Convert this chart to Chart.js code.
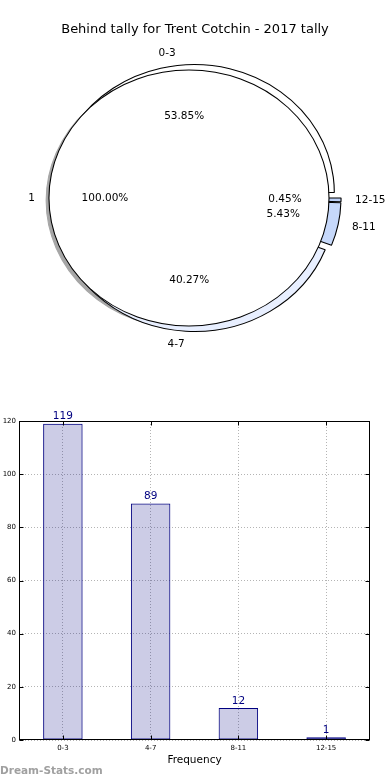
<!DOCTYPE html>
<html>
<head>
<meta charset="utf-8">
<script src="https://cdn.jsdelivr.net/npm/chart.js@4/dist/chart.umd.min.js"></script>
<style>
  html, body { margin: 0; padding: 0; background: #fff; }
  body { width: 390px; height: 780px; position: relative; overflow: hidden; font-family: 'DejaVu Sans', sans-serif; }
  .pieWrap { position: absolute; left: 0; top: 0; width: 390px; height: 400px; }
  #ringWrap { z-index: 1; }
  #innerWrap { z-index: 2; }
  #barWrap { position: absolute; left: 0; top: 400px; width: 390px; height: 380px; }
  #credit { position: absolute; left: 0; top: 764px; font-size: 10.5px; font-weight: bold; color: #a0a0a0; z-index: 3; }
</style>
</head>
<body>
<div class="pieWrap" id="ringWrap"><canvas id="ringChart"></canvas></div>
<div class="pieWrap" id="innerWrap"><canvas id="innerChart"></canvas></div>
<div id="barWrap"><canvas id="barChart"></canvas></div>
<div id="credit">Dream-Stats.com</div>
<script>
const chartTitle = 'Behind tally for Trent Cotchin - 2017 tally';
const categories = ['0-3', '4-7', '8-11', '12-15'];
const counts = [119, 89, 12, 1];
const innerLabels = ['1'];
const innerCounts = [221];
const yTicks = [0, 20, 40, 60, 80, 100, 120];
const xTitle = 'Frequency';

// styling
const FONT = "'DejaVu Sans', sans-serif";
const ringColors = ['#ffffff', '#e8efff', '#c6d8fa', '#bcd0f7'];
const explodePx = 5.5;
const stretchX = 1.094;
const pieRadius = 128;
const shadowColor = '#a6a6a6';

Chart.defaults.font.family = FONT;
Chart.defaults.color = '#000';

// matplotlib goes counter-clockwise from 3 o'clock, chart.js clockwise -> reverse
const ringLabels = [...categories].reverse();
const ringValues = [...counts].reverse();
const ringFill = [...ringColors].reverse();

let innerChart = null;
let ringChart = null;

function pct(value, values) {
  const total = values.reduce((a, b) => a + b, 0);
  return (value / total * 100).toFixed(2) + '%';
}

function center(chart) {
  const { chartArea } = chart;
  return {
    cx: (chartArea.left + chartArea.right) / 2,
    cy: (chartArea.top + chartArea.bottom) / 2,
  };
}

function stretch(chart, dx = 0, dy = 0) {
  const { ctx } = chart;
  const { cx, cy } = center(chart);
  ctx.translate(cx + dx, cy + dy);
  ctx.scale(stretchX, 1);
  ctx.translate(-cx, -cy);
}

function arcProps(arc) {
  const p = arc.getProps(['x', 'y', 'startAngle', 'endAngle', 'outerRadius'], true);
  p.mid = (p.startAngle + p.endAngle) / 2;
  return p;
}

function drawShadows(chart) {
  const { ctx } = chart;
  ctx.save();
  stretch(chart, -2.8, 2.6);
  ctx.fillStyle = shadowColor;
  ctx.strokeStyle = shadowColor;
  ctx.lineWidth = 1;
  [innerChart, ringChart].forEach((c) => {
    if (!c) return;
    c.getDatasetMeta(0).data.forEach((arc) => {
      const p = arcProps(arc);
      const x = p.x + Math.cos(p.mid) * explodePx;
      const y = p.y + Math.sin(p.mid) * explodePx;
      ctx.beginPath();
      ctx.moveTo(x, y);
      ctx.arc(x, y, p.outerRadius, p.startAngle, p.endAngle);
      ctx.closePath();
      ctx.fill();
      ctx.stroke();
    });
  });
  ctx.restore();
}

function drawExploded(chart, meta, outline) {
  const { ctx } = chart;
  meta.data.forEach((arc) => {
    const p = arcProps(arc);
    ctx.save();
    ctx.translate(Math.cos(p.mid) * explodePx, Math.sin(p.mid) * explodePx);
    arc.draw(ctx);
    if (outline) {
      ctx.beginPath();
      ctx.arc(p.x, p.y, p.outerRadius, 0, Math.PI * 2);
      ctx.strokeStyle = '#000';
      ctx.lineWidth = 1;
      ctx.stroke();
    }
    ctx.restore();
  });
}

function drawPieTexts(chart, target, ctx) {
  const { cx, cy } = center(chart);
  const ds = target.data.datasets[0];
  target.getDatasetMeta(0).data.forEach((arc, i) => {
    const p = arcProps(arc);
    const c = Math.cos(p.mid);
    const s = Math.sin(p.mid);
    const lr = explodePx + 1.1 * p.outerRadius;
    const pr = explodePx + 0.6 * p.outerRadius;
    ctx.textAlign = c < -0.001 ? 'right' : (c > 0.001 ? 'left' : 'center');
    ctx.fillText(target.data.labels[i], cx + c * lr * stretchX, cy + s * lr);
    ctx.textAlign = 'center';
    ctx.fillText(pct(ds.data[i], ds.data), cx + c * pr * stretchX, cy + s * pr);
  });
}

const ringDecor = {
  id: 'ringDecor',
  beforeDatasetsDraw(chart) {
    drawShadows(chart);
    chart.ctx.save();
    stretch(chart);
  },
  beforeDatasetDraw(chart, args) {
    drawExploded(chart, args.meta, false);
    return false;
  },
  afterDatasetsDraw(chart) {
    chart.ctx.restore();
  },
};

const innerDecor = {
  id: 'innerDecor',
  beforeDatasetsDraw(chart) {
    chart.ctx.save();
    stretch(chart);
  },
  beforeDatasetDraw(chart, args) {
    drawExploded(chart, args.meta, true);
    return false;
  },
  afterDatasetsDraw(chart) {
    const { ctx } = chart;
    ctx.restore();
    ctx.save();
    ctx.fillStyle = '#000';
    ctx.textBaseline = 'middle';
    ctx.font = `13px ${FONT}`;
    ctx.textAlign = 'center';
    ctx.fillText(chartTitle, chart.width / 2, 30);
    ctx.font = `10.5px ${FONT}`;
    if (ringChart) drawPieTexts(chart, ringChart, ctx);
    drawPieTexts(chart, chart, ctx);
    ctx.restore();
  },
};

function pieOptions() {
  return {
    responsive: true,
    maintainAspectRatio: false,
    animation: false,
    events: [],
    devicePixelRatio: 1,
    rotation: 90,
    radius: pieRadius,
    layout: { padding: { left: 0, right: 0, top: 0, bottom: 4 } },
    plugins: { legend: { display: false }, tooltip: { enabled: false } },
  };
}

innerChart = new Chart(document.getElementById('innerChart'), {
  type: 'pie',
  data: {
    labels: innerLabels,
    datasets: [{ data: innerCounts, backgroundColor: '#ffffff', borderWidth: 0 }],
  },
  options: pieOptions(),
  plugins: [innerDecor],
});

ringChart = new Chart(document.getElementById('ringChart'), {
  type: 'pie',
  data: {
    labels: ringLabels,
    datasets: [{ data: ringValues, backgroundColor: ringFill, borderColor: '#000', borderWidth: 1 }],
  },
  options: pieOptions(),
  plugins: [ringDecor],
});

innerChart.draw();

const barDecor = {
  id: 'barDecor',
  afterDatasetsDraw(chart) {
    const { ctx } = chart;
    const meta = chart.getDatasetMeta(0);
    ctx.save();
    ctx.fillStyle = '#000080';
    ctx.font = `10.5px ${FONT}`;
    ctx.textAlign = 'center';
    ctx.textBaseline = 'bottom';
    meta.data.forEach((bar, i) => {
      ctx.fillText(String(counts[i]), bar.x, bar.y - 2);
    });
    ctx.restore();
  },
  afterDraw(chart) {
    const { ctx, chartArea: a, scales } = chart;
    ctx.save();
    ctx.strokeStyle = '#000';
    ctx.lineWidth = 1;
    const l = Math.round(a.left) + 0.5;
    const r = Math.round(a.right) - 0.5;
    const t = Math.round(a.top) + 0.5;
    const b = Math.round(a.bottom) - 0.5;
    ctx.strokeRect(l, t, r - l, b - t);
    ctx.beginPath();
    scales.x.ticks.forEach((tick, i) => {
      const x = Math.round(scales.x.getPixelForTick(i)) + 0.5;
      ctx.moveTo(x, b); ctx.lineTo(x, b - 4);
      ctx.moveTo(x, t); ctx.lineTo(x, t + 4);
    });
    scales.y.ticks.forEach((tick, i) => {
      const y = Math.round(scales.y.getPixelForTick(i)) + 0.5;
      ctx.moveTo(l, y); ctx.lineTo(l + 4, y);
      ctx.moveTo(r, y); ctx.lineTo(r - 4, y);
    });
    ctx.stroke();
    ctx.restore();
  },
};

new Chart(document.getElementById('barChart'), {
  type: 'bar',
  data: {
    labels: categories,
    datasets: [
      {
        data: counts,
        backgroundColor: 'rgba(0,0,128,0.2)',
        borderColor: '#000080',
        borderWidth: 1,
        borderSkipped: false,
        barPercentage: 0.45,
        categoryPercentage: 1,
      },
    ],
  },
  options: {
    responsive: true,
    maintainAspectRatio: false,
    animation: false,
    events: [],
    devicePixelRatio: 1,
    layout: { padding: { left: 0, right: 20, top: 21, bottom: 0 } },
    plugins: { legend: { display: false }, tooltip: { enabled: false } },
    scales: {
      x: {
        grid: { offset: false, color: '#b4b4b4', lineWidth: 1, drawTicks: false },
        border: { display: false, dash: [1, 2] },
        ticks: { font: { size: 7 }, color: '#000', padding: 4, maxRotation: 0 },
        title: {
          display: true,
          text: xTitle,
          font: { size: 10.5 },
          color: '#000',
          padding: { top: 0, bottom: 13 },
        },
        afterFit(scale) { scale.height = 40; },
      },
      y: {
        min: 0,
        max: 120,
        afterBuildTicks(scale) { scale.ticks = yTicks.map((v) => ({ value: v })); },
        grid: { color: '#b4b4b4', lineWidth: 1, drawTicks: false },
        border: { display: false, dash: [1, 2] },
        ticks: { font: { size: 7 }, color: '#000', padding: 3 },
        afterFit(scale) { scale.width = 19; },
      },
    },
  },
  plugins: [barDecor],
});
</script>
</body>
</html>
